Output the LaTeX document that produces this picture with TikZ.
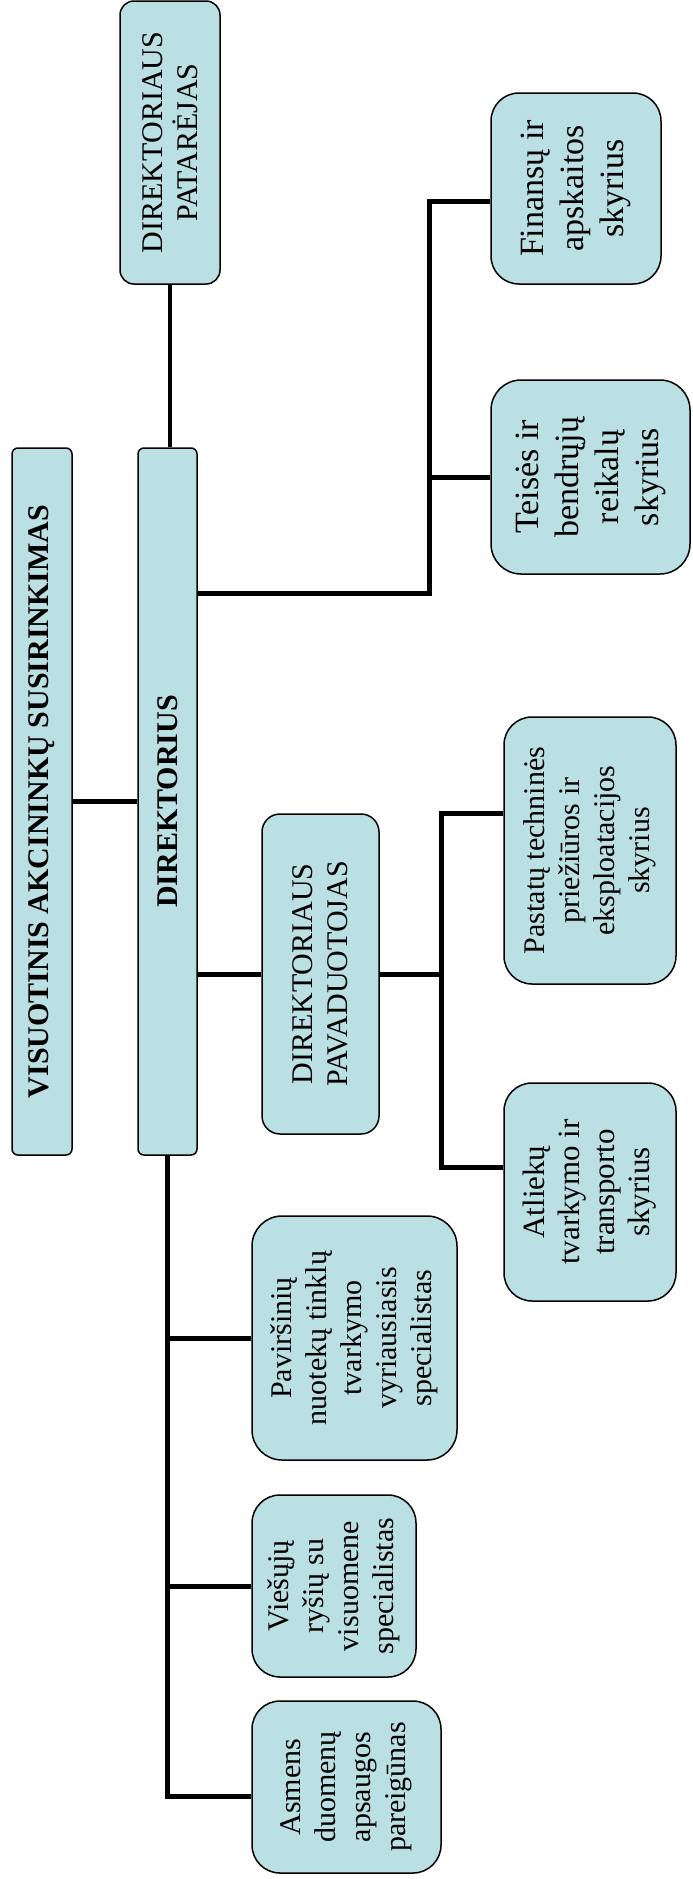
\documentclass[tikz,border=0pt]{standalone}
\usepackage{fontspec}
\setmainfont{Liberation Serif}
\definecolor{boxfill}{RGB}{187,224,227}
\begin{document}
\begin{tikzpicture}[x=1pt,y=-1pt,
  box/.style={draw=black, line width=1.5pt, fill=boxfill, inner sep=0pt, rectangle},
  txt/.style={rotate=90, align=center, inner sep=0pt, font=\fontsize{30}{35}\selectfont},
  bigtxt/.style={txt, font=\fontsize{34}{40}\selectfont},
  boldtxt/.style={txt, font=\fontsize{30}{35}\selectfont\bfseries},
  conn/.style={line width=5pt},
  thinconn/.style={line width=4pt}]
\useasboundingbox (0,0) rectangle (693,1879);
% boxes
\node[box, minimum width=60pt, minimum height=707pt, rounded corners=6pt] (vis) at (42,801.5) {};
\node[box, minimum width=59pt, minimum height=707pt, rounded corners=6pt] (dir) at (167.5,801.5) {};
\node[box, minimum width=100pt, minimum height=283pt, rounded corners=14pt] (pat) at (170,142.5) {};
\node[box, minimum width=170pt, minimum height=191pt, rounded corners=28pt] (fin) at (576,188.5) {};
\node[box, minimum width=199pt, minimum height=194pt, rounded corners=30pt] (tei) at (590.5,477) {};
\node[box, minimum width=117pt, minimum height=320pt, rounded corners=18pt] (pav) at (320.5,974) {};
\node[box, minimum width=172pt, minimum height=267pt, rounded corners=28pt] (pas) at (590,850.5) {};
\node[box, minimum width=172pt, minimum height=218pt, rounded corners=28pt] (atl) at (590,1192) {};
\node[box, minimum width=205pt, minimum height=244pt, rounded corners=30pt] (pavi) at (354.5,1338) {};
\node[box, minimum width=164pt, minimum height=182pt, rounded corners=28pt] (vie) at (334,1586) {};
\node[box, minimum width=189pt, minimum height=172pt, rounded corners=28pt] (asm) at (346.5,1787) {};
% texts
\node[boldtxt] (visT) at (vis) {VISUOTINIS AKCININKŲ SUSIRINKIMAS};
\node[boldtxt] (dirT) at (dir) {DIREKTORIUS};
\node[txt] (patT) at (pat) {DIREKTORIAUS\\PATARĖJAS};
\node[bigtxt] (finT) at (fin) {Finansų ir\\apskaitos\\skyrius};
\node[bigtxt] (teiT) at (tei) {Teisės ir\\bendrųjų\\reikalų\\skyrius};
\node[txt] (pavT) at (pav) {DIREKTORIAUS\\PAVADUOTOJAS};
\node[txt] (pasT) at (pas) {Pastatų techninės\\priežiūros ir\\eksploatacijos\\skyrius};
\node[txt, font=\fontsize{31}{35}\selectfont] (atlT) at (atl) {Atliekų\\tvarkymo ir\\transporto\\skyrius};
\node[txt] (paviT) at (pavi) {Paviršinių\\nuotekų tinklų\\tvarkymo\\vyriausiasis\\specialistas};
\node[txt] (vieT) at (vie) {Viešųjų\\ryšių su\\visuomene\\specialistas};
\node[txt] (asmT) at (asm) {Asmens\\duomenų\\apsaugos\\pareigūnas};
% junctions
\coordinate (jA) at (429,593);
\coordinate (jF) at (429,201);
\coordinate (jP) at (441,974);
\coordinate (jS) at (441,813);
\coordinate (jT) at (441,1167);
\coordinate (jM) at (170,1796);
% connectors
\draw[thinconn] (pat.south) -- (pat.south |- dir.north);
\draw[conn] (vis.east) -- (dir.west);
\draw[conn] (dir.east |- jA) -- (jA) -- (jF) -- (fin.west |- jF);
\draw[conn] (jA |- tei.west) -- (tei.west);
\draw[conn] (dir.east |- pav.west) -- (pav.west);
\draw[conn] (pav.east) -- (jP);
\draw[conn] (pas.west |- jS) -- (jS) -- (jT) -- (atl.west |- jT);
\draw[conn] (dir.south) -- (dir.south |- jM) -- (asm.west |- jM);
\draw[conn] (dir.south |- pavi.west) -- (pavi.west);
\draw[conn] (dir.south |- vie.west) -- (vie.west);
\end{tikzpicture}
\end{document}
